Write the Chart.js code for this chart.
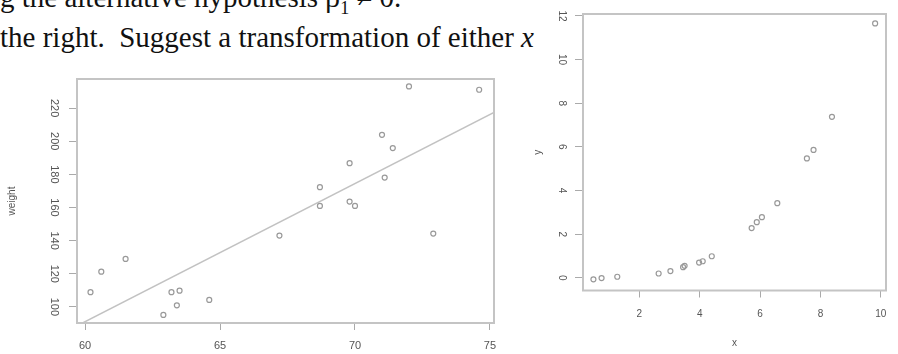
<!DOCTYPE html>
<html>
<head>
<meta charset="utf-8">
<script src="https://cdn.jsdelivr.net/npm/chart.js@4/dist/chart.umd.min.js"></script>
<style>
  body { margin: 0; width: 898px; height: 354px; overflow: hidden; background: #fff; position: relative; }
  .txt { position: absolute; left: 0; font-family: "Liberation Serif", "Times New Roman", serif; font-size: 29px; line-height: 29px; color: #111; white-space: pre; }
  #wrap1 { position: absolute; left: 0; top: 60px; width: 510px; height: 294px; }
  #wrap2 { position: absolute; left: 510px; top: 0; width: 388px; height: 354px; }
</style>
</head>
<body>
<div class="txt" style="top:-17px">g the alternative hypothesis β<sub style="font-size:18px">1</sub> ≠ 0.</div>
<div class="txt" style="top:23px">the right.  Suggest a transformation of either <i>x</i></div>
<div id="wrap1"><canvas id="heightChart" width="510" height="294"></canvas></div>
<div id="wrap2"><canvas id="curveChart" width="388" height="354"></canvas></div>
<script>
// left plot: weight vs height, with fitted line
let height_in = [60.2, 60.6, 61.5, 62.9, 63.2, 63.5, 63.4, 64.6, 67.2, 68.7, 68.7, 69.8, 69.8, 70.0, 71.0, 71.4, 71.1, 72.0, 72.9, 74.6];
let weight_lb = [108.9, 121.3, 129, 95.2, 108.9, 109.8, 101, 104.2, 143.1, 172.3, 161, 186.8, 163.6, 161, 203.9, 195.9, 178.1, 233.1, 144.3, 231.1];
let fit_x = [59.7, 75.15];
let fit_y = [88.6, 217.5];
let height_ticks = [60, 65, 70, 75];
let weight_ticks = [100, 120, 140, 160, 180, 200, 220];

// right plot: y vs x, curved
let x_vals = [0.48, 0.75, 1.27, 2.64, 3.03, 3.45, 3.5, 3.98, 4.1, 4.4, 5.72, 5.89, 6.06, 6.57, 7.55, 7.77, 8.38, 9.81];
let y_vals = [-0.07, -0.01, 0.05, 0.2, 0.31, 0.49, 0.55, 0.7, 0.76, 0.99, 2.28, 2.55, 2.78, 3.42, 5.47, 5.86, 7.38, 11.66];
let x_ticks = [2, 4, 6, 8, 10];
let y_ticks = [0, 2, 4, 6, 8, 10, 12];

const boxPlugin = {
    id: 'box',
    afterDatasetsDraw(chart) {
        const ctx = chart.ctx;
        const a = chart.chartArea;
        ctx.save();
        ctx.strokeStyle = '#c4c4c4';
        ctx.lineWidth = 2;
        ctx.strokeRect(a.left, a.top, a.right - a.left, a.bottom - a.top);
        ctx.restore();
    }
};

function toPoints(xs, ys) {
    return xs.map((x, i) => ({ x: x, y: ys[i] }));
}

function xAxis(min, max, ticks, fontSize, pad, h, title) {
    return {
        type: 'linear', min: min, max: max,
        afterBuildTicks: axis => { axis.ticks = ticks.map(v => ({ value: v })); },
        afterFit: scale => { scale.height = h; },
        grid: { drawOnChartArea: false, drawTicks: true, tickLength: 7, color: '#aaa' },
        border: { display: false },
        ticks: { font: { family: 'Liberation Sans', size: fontSize }, color: '#555', padding: pad, maxRotation: 0 },
        title: title
    };
}

function yAxis(min, max, ticks, fontSize, pad, w, title) {
    return {
        type: 'linear', min: min, max: max,
        afterBuildTicks: axis => { axis.ticks = ticks.map(v => ({ value: v })); },
        afterFit: scale => { scale.width = w; },
        grid: { drawOnChartArea: false, drawTicks: true, tickLength: 8, color: '#aaa' },
        border: { display: false },
        ticks: { font: { family: 'Liberation Sans', size: fontSize }, color: '#555', padding: pad, minRotation: -90, crossAlign: 'center' },
        title: title
    };
}

new Chart(document.getElementById('heightChart'), {
    type: 'scatter',
    data: {
        datasets: [{
            data: toPoints(height_in, weight_lb),
            pointStyle: 'circle', pointRadius: 2.5,
            backgroundColor: 'transparent', borderColor: '#999', borderWidth: 1.2
        }, {
            type: 'line',
            data: toPoints(fit_x, fit_y),
            borderColor: '#c2c2c2', borderWidth: 1.5, pointRadius: 0, fill: false
        }]
    },
    options: {
        responsive: false,
        animation: false,
        layout: { padding: { top: 19, right: 16, left: 0, bottom: 0 } },
        plugins: { legend: { display: false }, tooltip: { enabled: false } },
        scales: {
            x: xAxis(59.7, 75.15, height_ticks, 11, 9, 31, { display: false }),
            y: yAxis(90.3, 237.6, weight_ticks, 11, 6, 77,
                { display: true, text: 'weight', color: '#555', font: { family: 'Liberation Sans', size: 10 }, padding: { top: 6, bottom: 0 } })
        }
    },
    plugins: [boxPlugin]
});

new Chart(document.getElementById('curveChart'), {
    type: 'scatter',
    data: {
        datasets: [{
            data: toPoints(x_vals, y_vals),
            pointStyle: 'circle', pointRadius: 2.5,
            backgroundColor: 'transparent', borderColor: '#999', borderWidth: 1.2
        }]
    },
    options: {
        responsive: false,
        animation: false,
        layout: { padding: { top: 12, right: 12, left: 0, bottom: 0 } },
        plugins: { legend: { display: false }, tooltip: { enabled: false } },
        scales: {
            x: xAxis(0.135, 10.17, x_ticks, 10, 11, 63.5,
                { display: true, text: 'x', color: '#555', font: { family: 'Liberation Sans', size: 10 }, padding: { top: 0, bottom: 5 } }),
            y: yAxis(-0.58, 12.09, y_ticks, 10, 8, 73,
                { display: true, text: 'y', color: '#555', font: { family: 'Liberation Sans', size: 10 }, padding: { top: 22, bottom: 0 } })
        }
    },
    plugins: [boxPlugin]
});
</script>
</body>
</html>
